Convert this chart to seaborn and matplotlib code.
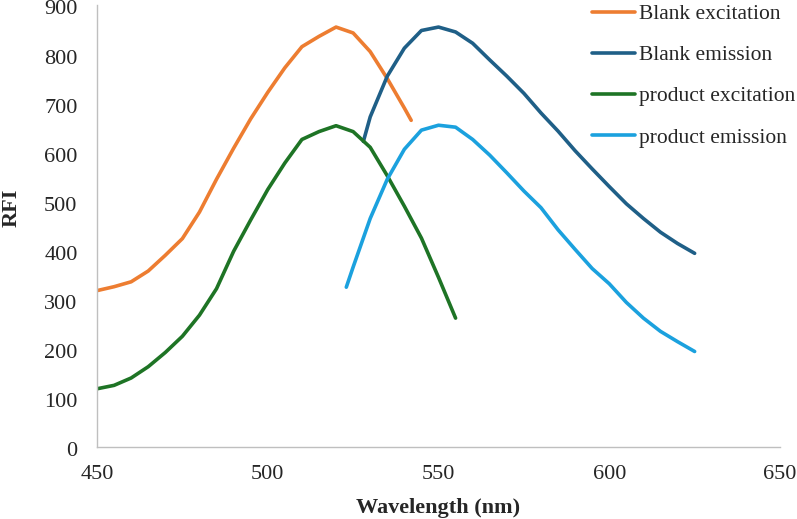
import pandas as pd
import seaborn as sns
import matplotlib
matplotlib.use("Agg")
import matplotlib.pyplot as plt
import matplotlib.transforms as mtransforms

# Blank excitation
blank_exc_nm = [450, 455, 460, 465, 470, 475, 480, 485, 490, 495, 500, 505, 510,
                515, 520, 525, 530, 535, 540, 542]
blank_exc_rfi = [318, 326, 336, 358, 390, 424, 478, 545, 608, 668, 722, 772, 815,
                 836, 855, 843, 805, 750, 690, 665]

# Blank emission
blank_em_nm = [528, 530, 535, 540, 545, 550, 555, 560, 565, 570, 575, 580, 585,
               590, 595, 600, 605, 610, 615, 620, 625]
blank_em_rfi = [622, 672, 755, 812, 848, 855, 845, 822, 788, 755, 720, 680, 643,
                603, 566, 530, 495, 465, 437, 414, 394]

# product excitation
prod_exc_nm = [450, 455, 460, 465, 470, 475, 480, 485, 490, 495, 500, 505, 510,
               515, 520, 525, 530, 535, 540, 545, 550, 555]
prod_exc_rfi = [118, 125, 140, 163, 192, 225, 268, 322, 398, 462, 524, 578, 626,
                642, 654, 642, 610, 552, 490, 425, 345, 262]

# product emission
prod_em_nm = [523, 525, 530, 535, 540, 545, 550, 555, 560, 565, 570, 575, 580,
              585, 590, 595, 600, 605, 610, 615, 620, 625]
prod_em_rfi = [325, 366, 465, 545, 606, 645, 655, 651, 626, 594, 558, 521, 487,
               442, 402, 363, 332, 294, 262, 235, 214, 194]

labels = ["Blank excitation", "Blank emission", "product excitation", "product emission"]
colors = ["#ED7D31", "#1F5F87", "#1E7425", "#1BA1DE"]

series = [(blank_exc_nm, blank_exc_rfi), (blank_em_nm, blank_em_rfi),
          (prod_exc_nm, prod_exc_rfi), (prod_em_nm, prod_em_rfi)]

frames = []
for lab, (nm, rfi) in zip(labels, series):
    frames.append(pd.DataFrame({"nm": nm, "rfi": rfi, "curve": lab}))
df = pd.concat(frames, ignore_index=True)

sns.set_style("white")
plt.rcParams["font.family"] = ["Liberation Serif", "DejaVu Serif"]

fig = plt.figure(figsize=(7.97, 5.19), dpi=100)
ax = fig.add_axes([0.1217, 0.1393, 0.8570, 0.8511])

sns.lineplot(data=df, x="nm", y="rfi", hue="curve", palette=colors,
             hue_order=labels, linewidth=2.6, estimator=None, sort=False, ax=ax)

ax.set_xlim(450, 650)
ax.set_ylim(0, 900)
ax.set_xticks([450, 500, 550, 600, 650])
ax.set_yticks(range(0, 1000, 100))
ax.tick_params(axis="both", length=0, labelsize=16)
ax.tick_params(axis="x", pad=13)
ax.tick_params(axis="y", pad=14)

# nudge y tick labels slightly down like the original
shift = mtransforms.ScaledTranslation(0, -2.5 / 100, fig.dpi_scale_trans)
for lbl in ax.get_yticklabels():
    lbl.set_transform(lbl.get_transform() + shift)

for side in ["top", "right"]:
    ax.spines[side].set_visible(False)
for side in ["left", "bottom"]:
    ax.spines[side].set_color("#BFBFBF")
    ax.spines[side].set_linewidth(1)

ax.set_xlabel("Wavelength (nm)", fontsize=16, fontweight="bold", labelpad=10)
ax.set_ylabel("RFI", fontsize=16, fontweight="bold")
ax.yaxis.set_label_coords(-0.11, 0.54)

ax.legend(loc="upper left", bbox_to_anchor=(592 / 797, 1 - 4 / 519),
          bbox_transform=fig.transFigure,
          frameon=False, fontsize=15.5, handlelength=2.0, handletextpad=0.2,
          labelspacing=0.98, borderpad=0, borderaxespad=0)

fig.savefig("out.png", dpi=100)
